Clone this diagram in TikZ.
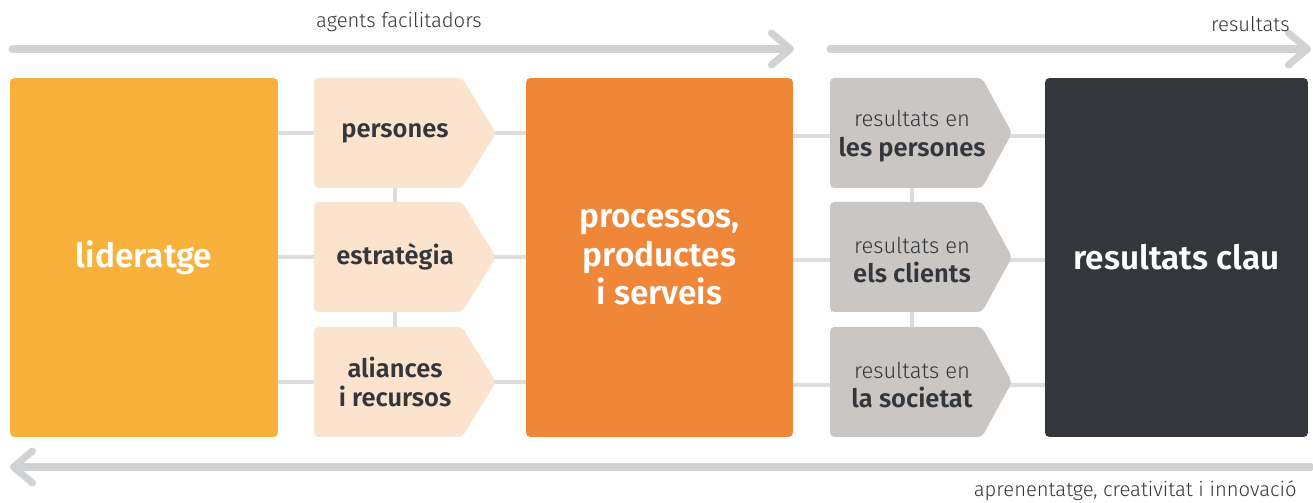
\documentclass[tikz,border=0pt]{standalone}
\usepackage{fontspec}
\setmainfont{Fira Sans}[BoldFont={Fira Sans SemiBold}]
\newfontfamily\lightfont{Fira Sans Light}
\usepackage{tikz}
\usetikzlibrary{arrows.meta,backgrounds}

\definecolor{lidcolor}{HTML}{F8B13A}
\definecolor{proccolor}{HTML}{EF8638}
\definecolor{claucolor}{HTML}{33363A}
\definecolor{peach}{HTML}{FCE3CD}
\definecolor{stone}{HTML}{C9C6C4}
\definecolor{darktext}{HTML}{33363A}
\definecolor{linkgray}{HTML}{DDDDDD}
\definecolor{flowgray}{HTML}{D1D2D3}

\newcommand\resfont{\lightfont\mdseries\fontsize{12.5}{17}\selectfont}

\begin{document}
\begin{tikzpicture}[x=0.02cm,y=-0.02cm,
  bigbox/.style={rounded corners=2.5pt,text=white,align=center,inner sep=0pt,
    font=\fontsize{19}{22}\selectfont\bfseries},
  tag/.style={text=darktext,align=center,inner sep=0pt,
    font=\fontsize{14.5}{17}\selectfont\bfseries},
  link/.style={line width=2.8pt,draw=linkgray},
  flow/.style={line width=4pt,draw=flowgray,line cap=round,
    -{Straight Barb[length=3.8mm,width=6.4mm,round]}},
  note/.style={text=darktext,inner sep=0pt,font=\lightfont\fontsize{11.5}{14}\selectfont}]
\useasboundingbox (0,0) rectangle (1313,503);

% Top and bottom flows
\coordinate (agS) at (12,49);
\coordinate (agE) at (794,49);
\coordinate (reS) at (830,49);
\coordinate (reE) at (1311,49);
\coordinate (apS) at (1311,467);
\coordinate (apE) at (10,467);
\draw[flow] (agS) -- (agE);
\draw[flow] (reS) -- (reE);
\draw[flow] (apS) -- (apE);
\node[note] (agtxt) at (399,22) {agents facilitadors};
\node[note,anchor=east] (restxt) at (1290,24) {resultats};
\node[note,anchor=east] (aptxt) at (1297,491) {aprenentatge, creativitat i innovació};

% Big blocks
\node[bigbox,fill=lidcolor,minimum width=5.36cm,minimum height=7.18cm] (lid) at (144,257.5) {lideratge};
\node[bigbox,fill=proccolor,minimum width=5.34cm,minimum height=7.18cm] (proc) at (659.5,257.5) {processos,\\productes\\i serveis};
\node[bigbox,fill=claucolor,minimum width=5.26cm,minimum height=7.18cm] (clau) at (1176.5,257.5) {resultats clau};

% Enablers
\foreach \n/\y/\t in {pers/133/persones, estr/257/estratègia, alia/382/{aliances\\i recursos}}{
  \fill[peach,rounded corners=2.5pt] (314,\y-55) -- (462,\y-55) -- (496,\y) -- (462,\y+55) -- (314,\y+55) -- cycle;
  \node[tag] (\n) at (395,\y) {\t};
}

% Results
\foreach \n/\y/\t in {rpers/133/les persones, rclie/257/els clients, rsoci/382/la societat}{
  \fill[stone,rounded corners=2.5pt] (830,\y-55) -- (982,\y-55) -- (1012,\y) -- (982,\y+55) -- (830,\y+55) -- cycle;
  \node[tag] (\n) at (912,\y+3) {{\resfont resultats en}\\\t};
}

% Connectors
\begin{scope}[on background layer]
\foreach \a/\b in {pers/rpers, estr/rclie, alia/rsoci}{
  \draw[link] (lid.east |- \a) -- (proc.west |- \a);
  \draw[link] (proc.east |- \b) -- (clau.west |- \b);
}
\draw[link] (pers) -- (alia);
\draw[link] (rpers) -- (rsoci);
\end{scope}
\end{tikzpicture}
\end{document}
